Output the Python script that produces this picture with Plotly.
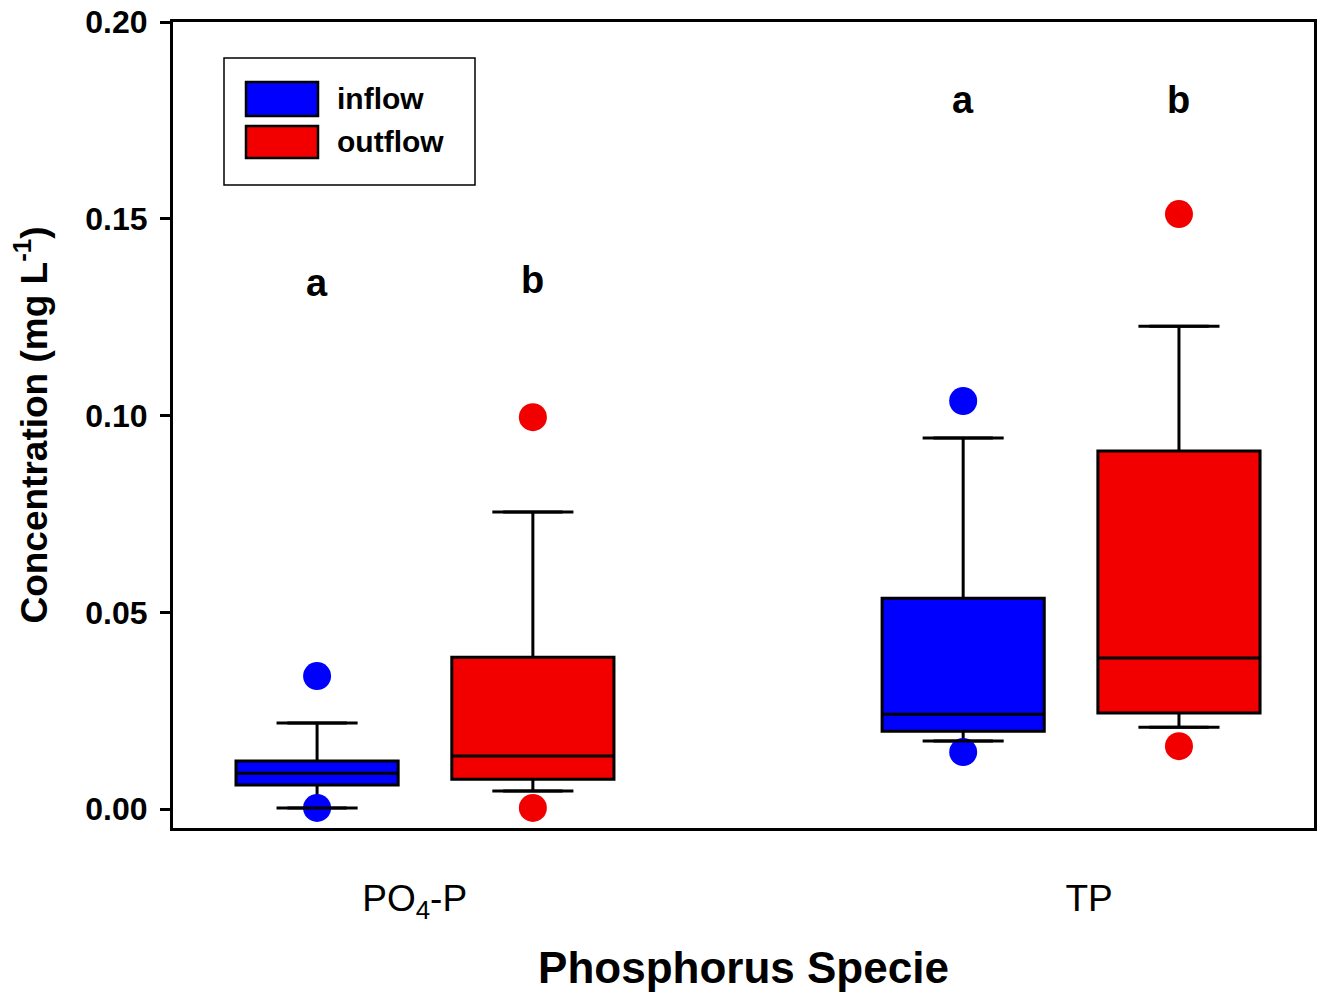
import plotly.graph_objects as go

# ---------------- data ----------------
categories = ["PO<sub>4</sub>-P", "TP"]
category_label_pos = [-0.016, 1.028]
series_names = ["inflow", "outflow"]
series_colors = ["#0000ff", "#f20000"]

inflow_q1 = [0.0061, 0.0198]
inflow_median = [0.0091, 0.0241]
inflow_q3 = [0.0122, 0.0536]
inflow_lower = [0.0003, 0.0173]
inflow_upper = [0.0219, 0.0943]
inflow_outliers = [[0.0338, 0.0003], [0.1037, 0.0145]]

outflow_q1 = [0.0076, 0.0244]
outflow_median = [0.0135, 0.0384]
outflow_q3 = [0.0386, 0.0910]
outflow_lower = [0.0046, 0.0208]
outflow_upper = [0.0755, 0.1227]
outflow_outliers = [[0.0996, 0.0003], [0.1512, 0.0160]]

sig_letters_inflow = ["a", "a"]
sig_letters_outflow = ["b", "b"]
sig_y_inflow = [0.1337, 0.1802]
sig_y_outflow = [0.1345, 0.1802]

y_ticks = [0.00, 0.05, 0.10, 0.15, 0.20]
y_ticklabels = ["0.00", "0.05", "0.10", "0.15", "0.20"]

# ---------------- layout constants ----------------
offsets = [-0.167, 0.167]
box_width = 0.251
cap_half = 0.046

stats = [
    (inflow_q1, inflow_median, inflow_q3, inflow_lower, inflow_upper, inflow_outliers,
     sig_letters_inflow, sig_y_inflow),
    (outflow_q1, outflow_median, outflow_q3, outflow_lower, outflow_upper, outflow_outliers,
     sig_letters_outflow, sig_y_outflow),
]

fig = go.Figure()

# outliers first (drawn beneath boxes and caps)
for s, (q1, med, q3, lo, hi, outl, letters, ly) in enumerate(stats):
    xs, ys = [], []
    for i in range(len(categories)):
        for v in outl[i]:
            xs.append(i + offsets[s])
            ys.append(v)
    fig.add_trace(go.Scatter(x=xs, y=ys, mode="markers",
                             marker=dict(color=series_colors[s], size=28, line=dict(width=0)),
                             showlegend=False, hoverinfo="y"))

# boxes
for s, (q1, med, q3, lo, hi, outl, letters, ly) in enumerate(stats):
    fig.add_trace(go.Box(
        x=[i + offsets[s] for i in range(len(categories))],
        q1=q1, median=med, q3=q3, lowerfence=lo, upperfence=hi,
        width=box_width, fillcolor=series_colors[s],
        line=dict(color="black", width=3),
        boxpoints=False, name=series_names[s], showlegend=False,
    ))

# whisker caps
for s, (q1, med, q3, lo, hi, outl, letters, ly) in enumerate(stats):
    cx, cy = [], []
    for i in range(len(categories)):
        c = i + offsets[s]
        for v in (lo[i], hi[i]):
            cx += [c - cap_half, c + cap_half, None]
            cy += [v, v, None]
    fig.add_trace(go.Scatter(x=cx, y=cy, mode="lines",
                             line=dict(color="black", width=3),
                             showlegend=False, hoverinfo="skip"))

# significance letters
for s, (q1, med, q3, lo, hi, outl, letters, ly) in enumerate(stats):
    for i in range(len(categories)):
        fig.add_annotation(x=i + offsets[s], y=ly[i], text="<b>" + letters[i] + "</b>",
                           showarrow=False,
                           font=dict(family="Liberation Sans", size=38, color="black"),
                           xanchor="center", yanchor="middle")

# manual legend (paper coords)
L, R, T, B = 173, 1314, 22, 828
def px(xp): return (xp - L) / (R - L)
def py(yp): return (B - yp) / (B - T)

fig.add_shape(type="rect", xref="paper", yref="paper",
              x0=px(224), x1=px(475), y0=py(185), y1=py(58),
              line=dict(color="black", width=1.5), fillcolor="white")
swatch_rows = [(82, 116), (126, 158)]
for s, (ya, yb) in enumerate(swatch_rows):
    fig.add_shape(type="rect", xref="paper", yref="paper",
                  x0=px(246), x1=px(318), y0=py(yb), y1=py(ya),
                  line=dict(color="black", width=2.5), fillcolor=series_colors[s])
    fig.add_annotation(xref="paper", yref="paper", x=px(335), y=py((ya + yb) / 2),
                       text="<b>" + series_names[s] + "</b>", showarrow=False,
                       xanchor="left", yanchor="middle",
                       font=dict(family="Liberation Sans", size=30, color="black"))

fig.update_layout(
    width=1327, height=993,
    margin=dict(l=L, r=1327 - R, t=T, b=993 - B),
    paper_bgcolor="white", plot_bgcolor="white",
    font=dict(family="Liberation Sans", color="black"),
    showlegend=False,
    xaxis=dict(
        range=[-0.39, 1.376], tickvals=category_label_pos, ticktext=categories,
        showline=True, mirror=True, linecolor="black", linewidth=3,
        showgrid=False, zeroline=False, ticks="", automargin=False,
        tickfont=dict(family="Liberation Sans", size=37, color="black"),
        ticklabelstandoff=36,
        title=dict(text="<b>Phosphorus Specie</b>",
                   font=dict(family="Liberation Sans", size=44, color="black"), standoff=30),
    ),
    yaxis=dict(
        range=[-0.0048, 0.2], tickvals=y_ticks, ticktext=[f"<b>{t}</b>" for t in y_ticklabels],
        showline=True, mirror=True, linecolor="black", linewidth=3,
        showgrid=False, zeroline=False, ticks="outside", ticklen=10, tickwidth=3,
        tickcolor="black", automargin=False, ticklabelstandoff=6,
        tickfont=dict(family="Liberation Sans", size=32, color="black"),
        title=dict(text="<b>Concentration (mg L<sup>-1</sup>)</b>",
                   font=dict(family="Liberation Sans", size=37, color="black"), standoff=27),
    ),
)

fig.write_html("out.html")
